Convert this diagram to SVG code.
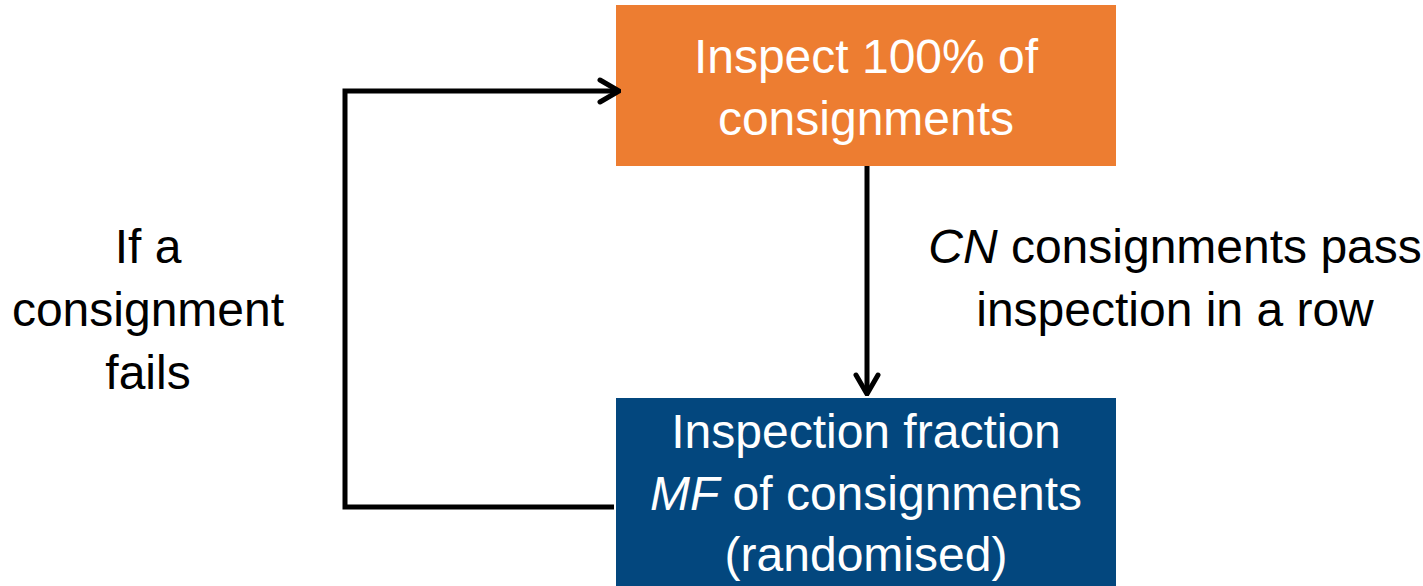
<svg xmlns="http://www.w3.org/2000/svg" width="1423" height="586" viewBox="0 0 1423 586">
<style>
text{font-family:"Liberation Sans",Arial,sans-serif;font-size:48px;text-anchor:middle}
.w{fill:#ffffff}
.k{fill:#000000}
.c{fill:none;stroke:#000;stroke-width:5}
.h{fill:none;stroke:#000;stroke-width:5;stroke-linecap:round;stroke-linejoin:miter}
</style>
<defs>
<marker id="ah" markerUnits="userSpaceOnUse" viewBox="-22 -14 24 28" refX="0" refY="0" markerWidth="24" markerHeight="28" orient="auto">
<path d="M-19,-11 L0,0 L-19,11" class="h"/>
</marker>
</defs>
<g id="node-inspect100">
<rect x="616" y="5" width="500" height="161" fill="#ED7D31"/>
<text class="w" x="866" y="73">Inspect 100% of</text>
<text class="w" x="866" y="135">consignments</text>
</g>
<g id="node-fraction">
<rect x="616" y="398" width="500" height="188" fill="#03477E"/>
<text class="w" x="866" y="448">Inspection fraction</text>
<text class="w" x="866" y="510"><tspan font-style="italic">MF</tspan> of consignments</text>
<text class="w" x="866" y="571">(randomised)</text>
</g>
<g id="connectors">
<polyline class="c" points="614,507 345,507 345,91 619,91" marker-end="url(#ah)"/>
<line class="c" x1="867" y1="166" x2="867" y2="394" marker-end="url(#ah)"/>
</g>
<g id="label-fail">
<text class="k" x="148" y="263">If a</text>
<text class="k" x="148" y="326">consignment</text>
<text class="k" x="148" y="389">fails</text>
</g>
<g id="label-pass">
<text class="k" x="1175" y="263"><tspan font-style="italic">CN</tspan> consignments pass</text>
<text class="k" x="1175" y="326">inspection in a row</text>
</g>
</svg>
